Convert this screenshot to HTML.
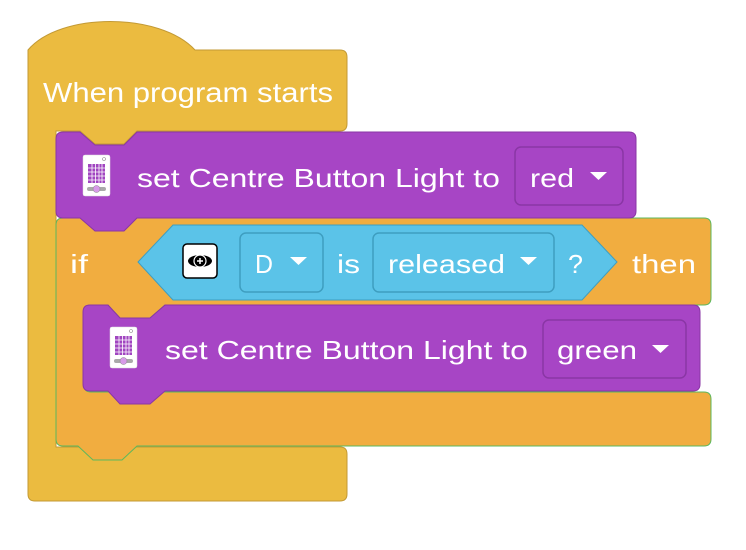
<!DOCTYPE html>
<html><head><meta charset="utf-8"><style>
html,body{margin:0;padding:0;background:#fff;width:746px;height:550px;overflow:hidden}
svg text{font-family:"Liberation Sans",sans-serif;fill:#fff}
</style></head><body>
<svg width="746" height="550" viewBox="0 0 746 550" xmlns="http://www.w3.org/2000/svg">
<defs>
<g id="brick">
<rect x="0" y="0" width="27" height="41" rx="2" fill="#fff" stroke="#ddd" stroke-width="0.5"/>
<rect x="5" y="9" width="17" height="19" fill="#a045c0"/>
<g stroke="#fff" stroke-width="0.8">
<line x1="5" y1="13" x2="22" y2="13"/><line x1="5" y1="17" x2="22" y2="17"/><line x1="5" y1="21" x2="22" y2="21"/><line x1="5" y1="25" x2="22" y2="25"/>
<line x1="9" y1="9" x2="9" y2="28"/><line x1="12.5" y1="9" x2="12.5" y2="28"/><line x1="16" y1="9" x2="16" y2="28"/><line x1="19" y1="9" x2="19" y2="28"/>
</g>
<rect x="4" y="32" width="19" height="4" rx="2" fill="#aaa"/>
<circle cx="13.5" cy="34" r="3.5" fill="#d79be8" stroke="#888" stroke-width="0.5"/>
<circle cx="21" cy="4" r="1.5" fill="none" stroke="#888" stroke-width="0.6"/>
</g>
</defs>
<!-- hat -->
<path d="M28,50 C60,12 160,12 195,50 L340,50 Q347,50 347,57 L347,124 Q347,131 340,131 L137,131 L124,144 L95,144 L80,131 L56,131 L56,447 L340,447 Q347,447 347,454 L347,494 Q347,501 340,501 L35,501 Q28,501 28,494 Z" fill="#ebbb40" stroke="#c39a35" stroke-width="1"/>
<text x="43" y="102" font-size="28" textLength="290" lengthAdjust="spacingAndGlyphs">When program starts</text>
<!-- if block -->
<path d="M63,218 L704,218 Q711,218 711,225 L711,298 Q711,305 704,305 L165,305 L150,318 L120,318 L108,305 L91,305 Q84,305 84,312 L84,385 Q84,392 91,392 L704,392 Q711,392 711,399 L711,439 Q711,446 704,446 L137,446 L122,460 L93,460 L78,446 L63,446 Q56,446 56,439 L56,225 Q56,218 63,218Z" fill="#f1ad40" stroke="#5cb85c" stroke-width="1"/>
<text x="70" y="273" font-size="26" textLength="18" lengthAdjust="spacingAndGlyphs">if</text>
<text x="632" y="273" font-size="26" textLength="64" lengthAdjust="spacingAndGlyphs">then</text>
<!-- purple 1 -->
<path d="M63,132 L80,132 L95,145 L124,145 L137,132 L629,132 Q636,132 636,139 L636,211 Q636,218 629,218 L137,218 L124,231 L95,231 L80,218 L63,218 Q56,218 56,211 L56,139 Q56,132 63,132Z" fill="#a745c5" stroke="#8a36a5" stroke-width="1"/>
<use href="#brick" x="83" y="155"/>
<text x="137" y="187" font-size="26" textLength="363" lengthAdjust="spacingAndGlyphs">set Centre Button Light to</text>
<rect x="515" y="147" width="108" height="58" rx="6" fill="#a745c5" stroke="#8a36a5" stroke-width="1.5"/>
<text x="530" y="187" font-size="26" textLength="44" lengthAdjust="spacingAndGlyphs">red</text>
<path d="M590,172 L607,172 L598.5,180Z" fill="#fff"/>
<!-- condition -->
<path d="M138,262 L173,225 L582,225 L617,262 L582,300 L173,300Z" fill="#5bc3e8" stroke="#3e9ec0" stroke-width="1"/>
<rect x="183" y="244" width="34" height="34" rx="4" fill="#fff" stroke="#000" stroke-width="1.5"/>
<ellipse cx="200" cy="261" rx="12" ry="6" fill="#000"/>
<circle cx="200" cy="261" r="6" fill="#000" stroke="#fff" stroke-width="1.2"/>
<path d="M197,261 L203,261 M200,258 L200,264" stroke="#fff" stroke-width="1.5"/>
<rect x="240" y="233" width="83" height="59" rx="6" fill="#5bc3e8" stroke="#3e9ec0" stroke-width="1.5"/>
<text x="255" y="273" font-size="26" textLength="18" lengthAdjust="spacingAndGlyphs">D</text>
<path d="M290,257 L307,257 L298.5,265Z" fill="#fff"/>
<text x="337" y="273" font-size="26" textLength="23" lengthAdjust="spacingAndGlyphs">is</text>
<rect x="373" y="233" width="181" height="59" rx="6" fill="#5bc3e8" stroke="#3e9ec0" stroke-width="1.5"/>
<text x="388" y="273" font-size="26" textLength="117" lengthAdjust="spacingAndGlyphs">released</text>
<path d="M520,257 L537,257 L528.5,265Z" fill="#fff"/>
<text x="568" y="273" font-size="26" textLength="15" lengthAdjust="spacingAndGlyphs">?</text>
<!-- purple 2 -->
<path d="M90,305 L108,305 L120,318 L150,318 L165,305 L693,305 Q700,305 700,312 L700,384 Q700,391 693,391 L165,391 L150,404 L120,404 L108,391 L90,391 Q83,391 83,384 L83,312 Q83,305 90,305Z" fill="#a745c5" stroke="#8a36a5" stroke-width="1"/>
<use href="#brick" x="110" y="327"/>
<text x="165" y="359" font-size="26" textLength="363" lengthAdjust="spacingAndGlyphs">set Centre Button Light to</text>
<rect x="543" y="320" width="143" height="58" rx="6" fill="#a745c5" stroke="#8a36a5" stroke-width="1.5"/>
<text x="557" y="359" font-size="26" textLength="80" lengthAdjust="spacingAndGlyphs">green</text>
<path d="M652,345 L669,345 L660.5,353Z" fill="#fff"/>
</svg>
</body></html>
